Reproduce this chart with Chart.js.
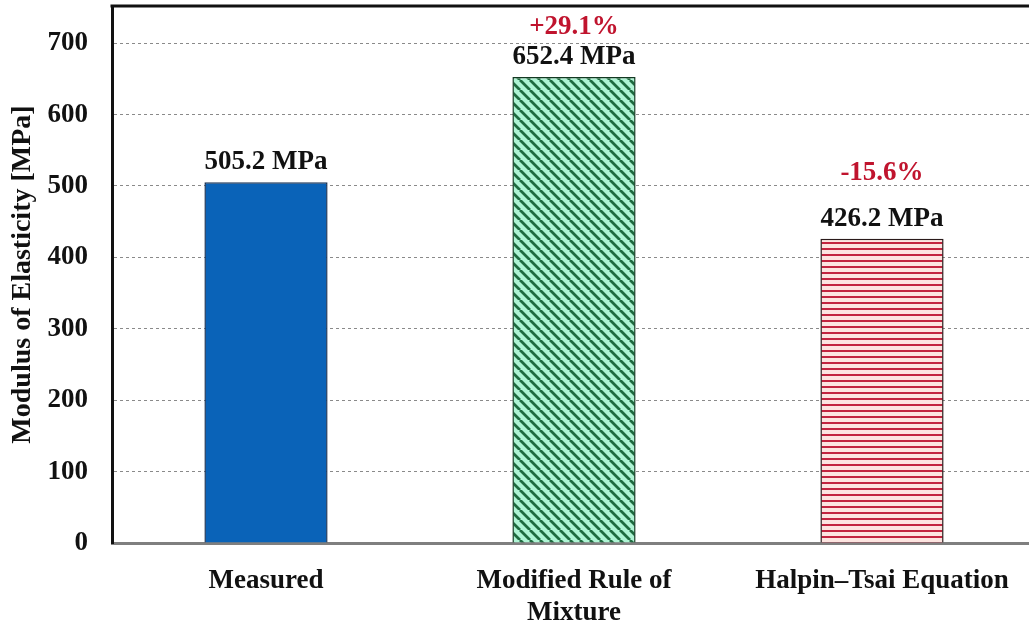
<!DOCTYPE html>
<html>
<head>
<meta charset="utf-8">
<script src="https://cdn.jsdelivr.net/npm/chart.js@4/dist/chart.umd.min.js"></script>
<style>
  html, body { margin: 0; padding: 0; background: #fff; overflow: hidden; }
  #wrap { width: 1040px; height: 625px; position: relative; }
</style>
</head>
<body>
<div id="wrap"><canvas id="c" width="1040" height="625"></canvas></div>
<script>
const categories = [["Measured"], ["Modified Rule of", "Mixture"], ["Halpin\u2013Tsai Equation"]];
const modulusValues = [505.2, 652.4, 426.2];
const valueLabels = ["505.2 MPa", "652.4 MPa", "426.2 MPa"];
const percentLabels = ["", "+29.1%", "-15.6%"];
const yTicks = [0, 100, 200, 300, 400, 500, 600, 700];

const FONT = "'Liberation Serif', 'Times New Roman', serif";

function makePattern(kind) {
  const c = document.createElement('canvas');
  const ctx = c.getContext('2d');
  if (kind === 'diag') {
    const s = 10;
    c.width = s; c.height = s;
    ctx.fillStyle = '#aef4d4';
    ctx.fillRect(0, 0, s, s);
    ctx.strokeStyle = '#1f6b40';
    ctx.lineWidth = 2.8;
    ctx.beginPath();
    for (let k = -1; k <= 1; k++) {
      ctx.moveTo(k * s, 0);
      ctx.lineTo(k * s + s, s);
    }
    ctx.stroke();
  } else {
    const s = 6;
    c.width = s; c.height = s;
    ctx.fillStyle = '#fde4e0';
    ctx.fillRect(0, 0, s, s);
    ctx.fillStyle = '#c3243f';
    ctx.fillRect(0, 2, s, 2);
  }
  return document.getElementById('c').getContext('2d').createPattern(c, 'repeat');
}

const labelPlugin = {
  id: 'barLabels',
  afterDatasetsDraw(chart) {
    const ctx = chart.ctx;
    const meta = chart.getDatasetMeta(0);
    const pctGap = [0, 30, 46];
    ctx.save();
    ctx.textAlign = 'center';
    ctx.textBaseline = 'middle';
    meta.data.forEach((bar, i) => {
      ctx.font = 'bold 27px ' + FONT;
      ctx.fillStyle = '#111';
      const ly = bar.y - 20;
      ctx.fillText(valueLabels[i], bar.x, ly);
      if (percentLabels[i]) {
        ctx.fillStyle = '#c0142e';
        ctx.fillText(percentLabels[i], bar.x, ly - pctGap[i]);
      }
    });
    ctx.restore();
  }
};

const framePlugin = {
  id: 'frame',
  afterDraw(chart) {
    const { ctx, chartArea } = chart;
    ctx.save();
    ctx.strokeStyle = '#111';
    ctx.lineWidth = 3;
    ctx.beginPath();
    ctx.moveTo(chartArea.left - 1.5, chartArea.top);
    ctx.lineTo(chartArea.right + 10, chartArea.top);
    ctx.stroke();
    ctx.restore();
  }
};

const ctx = document.getElementById('c').getContext('2d');
new Chart(ctx, {
  type: 'bar',
  data: {
    labels: categories,
    datasets: [{
      data: modulusValues,
      backgroundColor: ['#0a63b8', makePattern('diag'), makePattern('horiz')],
      borderColor: ['#1c3558', '#123a22', '#2a1a1a'],
      borderWidth: 1.5,
      barPercentage: 0.4,
      categoryPercentage: 1.0
    }]
  },
  options: {
    responsive: false,
    animation: false,
    events: [],
    layout: { padding: { top: 6, right: 4, left: 0, bottom: 0 } },
    plugins: { legend: { display: false }, tooltip: { enabled: false } },
    scales: {
      x: {
        grid: { display: false, drawTicks: false },
        border: { display: true, color: '#7f7f7f', width: 3 },
        ticks: {
          color: '#111',
          font: { family: FONT, size: 27, weight: 'bold', lineHeight: 1.18 },
          padding: 22,
          maxRotation: 0,
          autoSkip: false
        },
        afterFit(scale) {
          scale.height = 82;
          scale.paddingLeft = 0;
          scale.paddingRight = 0;
        }
      },
      y: {
        min: 0,
        max: 752,
        afterBuildTicks(scale) {
          scale.ticks = yTicks.map(v => ({ value: v })).concat([{ value: scale.max }]);
        },
        grid: {
          color: (c) => c.tick && c.tick.value === 0 ? 'rgba(0,0,0,0)' : '#8a8a8a',
          lineWidth: 1,
          drawTicks: false
        },
        border: { display: true, color: '#111', width: 3, dash: [3, 3] },
        ticks: {
          color: '#111',
          font: { family: FONT, size: 27, weight: 'bold' },
          padding: 24,
          callback: (v) => yTicks.includes(v) ? String(v) : null
        },
        title: {
          display: true,
          text: 'Modulus of Elasticity [MPa]',
          color: '#111',
          font: { family: FONT, size: 28, weight: 'bold' },
          padding: { top: 6, bottom: 0 }
        },
        afterFit(scale) {
          scale.width = 112;
          scale.paddingTop = 0;
          scale.paddingBottom = 0;
        }
      }
    }
  },
  plugins: [labelPlugin, framePlugin]
});
</script>
</body>
</html>
